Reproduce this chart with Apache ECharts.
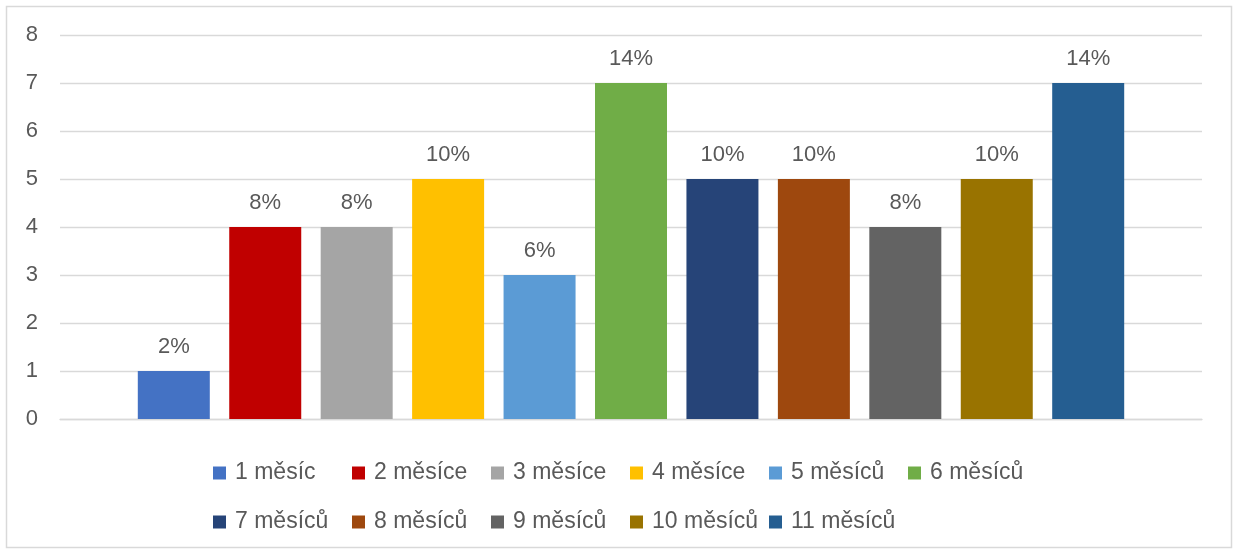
<!DOCTYPE html>
<html>
<head>
<meta charset="utf-8">
<script src="https://cdn.jsdelivr.net/npm/echarts@6/dist/echarts.min.js"></script>
<style>
  html, body { margin: 0; padding: 0; background: #fff; }
  #chart { width: 1238px; height: 553px; }
</style>
</head>
<body>
<div id="chart"></div>
<script>
// Počet respondentů podle délky (měsíce)
const seriesNames = ['1 měsíc', '2 měsíce', '3 měsíce', '4 měsíce', '5 měsíců', '6 měsíců',
                     '7 měsíců', '8 měsíců', '9 měsíců', '10 měsíců', '11 měsíců'];
const counts = [1, 4, 4, 5, 3, 7, 5, 5, 4, 5, 7];
const percentLabels = ['2%', '8%', '8%', '10%', '6%', '14%', '10%', '10%', '8%', '10%', '14%'];
const colors = ['#4472C4', '#C00000', '#A5A5A5', '#FFC000', '#5B9BD5', '#70AD47',
                '#264478', '#9E480E', '#636363', '#997300', '#255E91'];
const yTicks = [0, 1, 2, 3, 4, 5, 6, 7, 8];

const FONT = '"Liberation Sans", Arial, sans-serif';
const TEXT = '#595959';
const GRID = '#d9d9d9';

const chart = echarts.init(document.getElementById('chart'), null, { renderer: 'canvas' });

const series = seriesNames.map((name, i) => ({
  name: name,
  type: 'bar',
  data: [counts[i]],
  barWidth: 72,
  barGap: '27%',
  itemStyle: { color: colors[i] },
  label: {
    show: true,
    position: 'top',
    distance: 13,
    formatter: () => percentLabels[i],
    color: TEXT,
    fontFamily: FONT,
    fontSize: 22
  }
}));

const square = 'path://M0,0H1V1H0Z';
const legendBase = {
  orient: 'horizontal',
  left: 208,
  icon: square,
  itemWidth: 21,
  itemHeight: 13,
  itemGap: 9,
  selectedMode: false,
  textStyle: {
    color: TEXT,
    fontFamily: FONT,
    fontSize: 23,
    lineHeight: 24,
    width: 108,
    overflow: 'none'
  }
};

chart.setOption({
  animation: false,
  textStyle: { fontFamily: FONT },
  graphic: [{
    type: 'rect',
    shape: { x: 6.5, y: 6.5, width: 1225, height: 541 },
    style: { fill: 'none', stroke: GRID, lineWidth: 1.5 },
    silent: true
  }],
  grid: { left: 60, right: 36, top: 35, bottom: 134, containLabel: false },
  legend: [
    Object.assign({}, legendBase, { top: 456, data: seriesNames.slice(0, 6) }),
    Object.assign({}, legendBase, { top: 505, data: seriesNames.slice(6) })
  ],
  xAxis: {
    type: 'category',
    data: [''],
    axisLine: { show: true, lineStyle: { color: GRID, width: 1.3 } },
    axisTick: { show: false },
    axisLabel: { show: false }
  },
  yAxis: {
    type: 'value',
    min: yTicks[0],
    max: yTicks[yTicks.length - 1],
    interval: 1,
    axisLine: { show: false },
    axisTick: { show: false },
    axisLabel: { color: TEXT, fontFamily: FONT, fontSize: 22, margin: 22 },
    splitLine: { lineStyle: { color: GRID, width: 1.3 } }
  },
  series: series
});
</script>
</body>
</html>
